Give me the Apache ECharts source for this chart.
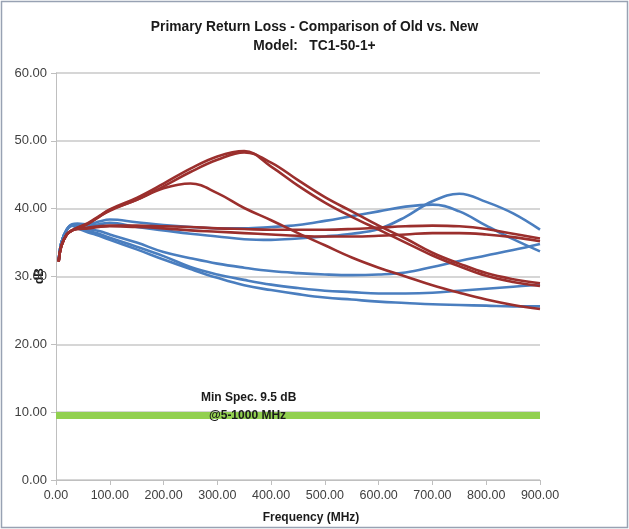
<!DOCTYPE html>
<html>
<head>
<meta charset="utf-8">
<script src="https://cdn.jsdelivr.net/npm/echarts@6/dist/echarts.min.js"></script>
<style>
html,body{margin:0;padding:0;background:#fff;}
#c{width:629px;height:529px;}
</style>
</head>
<body>
<div id="c"></div>
<script>
var freq = [5, 10, 20, 30, 40, 60, 80, 100, 150, 200, 250, 300, 350, 400, 450, 500, 550, 600, 650, 700, 750, 800, 850, 900];

// Old (blue)
var oldA = [32.3, 35.0, 36.9, 37.6, 37.7, 37.5, 37.7, 37.9, 37.3, 36.8, 36.3, 35.9, 35.5, 35.4, 35.6, 35.9, 36.3, 37.0, 38.8, 41.1, 42.2, 41.0, 39.3, 36.9];
var oldB = [32.3, 35.0, 36.9, 37.7, 37.8, 37.7, 38.1, 38.4, 38.0, 37.6, 37.3, 37.1, 37.1, 37.3, 37.6, 38.2, 38.9, 39.6, 40.3, 40.6, 39.6, 37.5, 35.5, 33.7];
var oldC = [32.3, 35.0, 36.9, 37.6, 37.5, 37.0, 36.7, 36.2, 35.0, 33.6, 32.7, 31.9, 31.3, 30.8, 30.5, 30.3, 30.2, 30.3, 30.6, 31.4, 32.3, 33.1, 33.9, 34.8];
var oldD = [32.3, 35.0, 36.9, 37.5, 37.2, 36.7, 36.3, 35.7, 34.4, 33.0, 31.4, 30.3, 29.5, 28.8, 28.3, 27.9, 27.7, 27.5, 27.5, 27.6, 27.9, 28.2, 28.5, 28.8];
var oldE = [32.3, 35.0, 36.9, 37.5, 37.1, 36.5, 36.0, 35.4, 34.0, 32.5, 31.1, 29.8, 28.7, 28.0, 27.4, 26.9, 26.6, 26.3, 26.1, 25.9, 25.8, 25.7, 25.6, 25.6];

// New (red)
var newA = [32.2, 34.5, 36.2, 36.8, 37.2, 37.9, 38.9, 39.9, 41.6, 43.7, 45.9, 47.7, 48.5, 46.2, 43.4, 40.9, 38.8, 36.9, 35.0, 33.1, 31.5, 30.1, 29.2, 28.6];
var newB = [32.2, 34.5, 36.2, 36.8, 37.2, 37.8, 38.8, 39.8, 41.3, 43.3, 45.4, 47.2, 48.3, 46.8, 44.2, 41.7, 39.6, 37.5, 35.6, 33.5, 31.9, 30.5, 29.6, 29.0];
var newC = [32.2, 34.5, 36.2, 36.8, 37.1, 37.8, 38.8, 39.7, 41.3, 43.0, 43.7, 42.3, 40.1, 38.3, 36.4, 34.6, 32.8, 31.3, 30.0, 28.7, 27.6, 26.6, 25.8, 25.2];
var newD = [32.2, 34.5, 36.2, 36.8, 37.0, 37.2, 37.4, 37.5, 37.5, 37.4, 37.3, 37.1, 37.0, 36.9, 36.9, 36.9, 37.0, 37.2, 37.4, 37.5, 37.4, 37.0, 36.3, 35.6];
var newE = [32.2, 34.5, 36.2, 36.8, 37.0, 37.1, 37.3, 37.4, 37.3, 37.1, 36.8, 36.6, 36.4, 36.2, 36.0, 35.9, 35.9, 36.0, 36.2, 36.4, 36.4, 36.2, 35.8, 35.2];

// Min spec line
var specFreq = [0, 900];
var specVal = [9.5, 9.5];

var yTicks = [0, 10, 20, 30, 40, 50, 60];
var xTicks = [0, 100, 200, 300, 400, 500, 600, 700, 800, 900];

var titleText = 'Primary Return Loss - Comparison of Old vs. New\nModel:   TC1-50-1+';
var xName = 'Frequency (MHz)';
var yName = 'dB';
var specLine1 = 'Min Spec. 9.5 dB';
var specLine2 = '@5-1000 MHz';

var FONT = '"Liberation Sans", sans-serif';
var BLUE = '#4a7ebf';
var RED = '#9b2f2d';

function pairs(xs, ys) { return xs.map(function (x, i) { return [x, ys[i]]; }); }
function lineSeries(vals, color) {
  return {
    type: 'line', data: pairs(freq, vals), smooth: 0.4, symbol: 'none',
    lineStyle: { color: color, width: 2.6 }, silent: true, animation: false
  };
}

var chart = echarts.init(document.getElementById('c'), null, { renderer: 'canvas' });
chart.setOption({
  backgroundColor: '#ffffff',
  animation: false,
  title: {
    text: titleText, left: 'center', top: 13,
    textStyle: { fontFamily: FONT, fontSize: 13.8, fontWeight: 'bold', color: '#1a1a1a', lineHeight: 19 }
  },
  grid: { left: 56, right: 89, top: 73, bottom: 49, containLabel: false },
  xAxis: {
    type: 'value', min: xTicks[0], max: xTicks[xTicks.length - 1], interval: 100,
    axisLine: { show: true, lineStyle: { color: '#bfbfbf', width: 1 } },
    axisTick: { show: true, length: 5, lineStyle: { color: '#bfbfbf' } },
    splitLine: { show: false },
    axisLabel: { fontFamily: FONT, fontSize: 12.5, color: '#404040', margin: 9, formatter: function (v) { return v.toFixed(2); } }
  },
  yAxis: {
    type: 'value', min: yTicks[0], max: yTicks[yTicks.length - 1], interval: 10,
    axisLine: { show: true, lineStyle: { color: '#bfbfbf', width: 1 } },
    axisTick: { show: true, length: 5, lineStyle: { color: '#bfbfbf' } },
    splitLine: { show: true, lineStyle: { color: '#c8c8c8', width: 1.5 } },
    axisLabel: { fontFamily: FONT, fontSize: 13, color: '#404040', margin: 9, formatter: function (v) { return v.toFixed(2); } }
  },
  series: [
    lineSeries(oldA, BLUE), lineSeries(oldB, BLUE), lineSeries(oldC, BLUE), lineSeries(oldD, BLUE), lineSeries(oldE, BLUE),
    lineSeries(newA, RED), lineSeries(newB, RED), lineSeries(newC, RED), lineSeries(newD, RED), lineSeries(newE, RED),
    {
      type: 'line', data: pairs(specFreq, specVal), symbol: 'none',
      lineStyle: { color: '#92d050', width: 7 }, silent: true, animation: false, z: 3
    }
  ],
  graphic: [
    { type: 'rect', shape: { x: 1.5, y: 1.5, width: 626, height: 526 }, style: { fill: 'none', stroke: '#98a2b3', lineWidth: 1.5 }, silent: true },
    { type: 'text', x: 311, y: 518, style: { text: xName, fontFamily: FONT, fontSize: 12, fontWeight: 'bold', fill: '#1a1a1a', align: 'center', verticalAlign: 'middle' } },
    { type: 'text', x: 40, y: 276, rotation: Math.PI / 2, style: { text: yName, fontFamily: FONT, fontSize: 12, fontWeight: 'bold', fill: '#1a1a1a', align: 'center', verticalAlign: 'middle' } },
    { type: 'text', x: 201, y: 398, z: 10, style: { text: specLine1, fontFamily: FONT, fontSize: 12, fontWeight: 'bold', fill: '#1a1a1a', align: 'left', verticalAlign: 'middle' } },
    { type: 'text', x: 209, y: 416, z: 10, style: { text: specLine2, fontFamily: FONT, fontSize: 12, fontWeight: 'bold', fill: '#1a1a1a', align: 'left', verticalAlign: 'middle' } }
  ]
});
</script>
</body>
</html>
